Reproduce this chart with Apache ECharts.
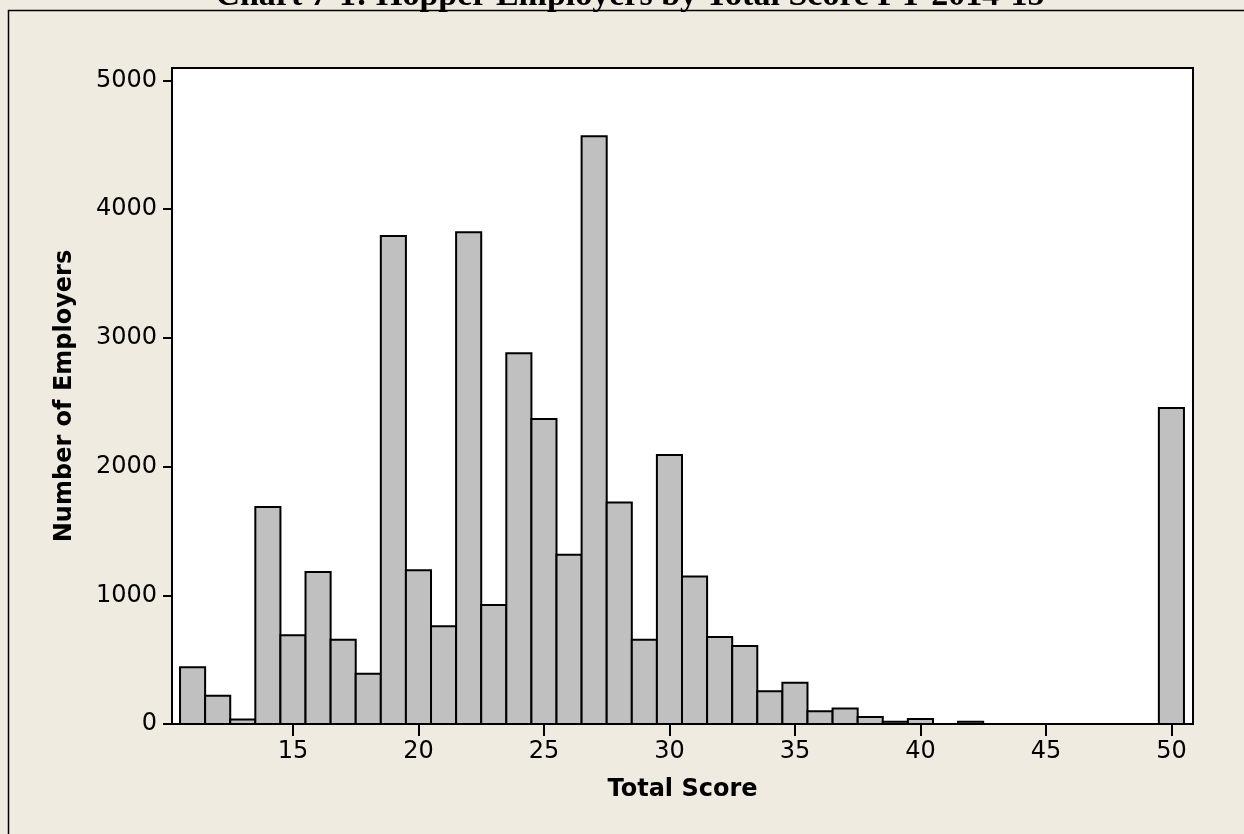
<!DOCTYPE html>
<html>
<head>
<meta charset="utf-8">
<script src="https://cdn.jsdelivr.net/npm/echarts@6/dist/echarts.min.js"></script>
<style>
html,body{margin:0;padding:0;background:#EFEBE0;}
#chart{width:1244px;height:834px;}
</style>
</head>
<body>
<div id="chart"></div>
<script>
const titleText = 'Chart 7-1: Hopper Employers by Total Score FY 2014-15';
const xName = 'Total Score';
const yName = 'Number of Employers';
const scores = [11,12,13,14,15,16,17,18,19,20,21,22,23,24,25,26,27,28,29,30,31,32,33,34,35,36,37,38,39,40,41,42,43,44,45,46,47,48,49,50];
const counts = [440,220,35,1685,690,1180,655,390,3790,1195,760,3820,925,2880,2370,1315,4565,1720,655,2090,1145,675,605,255,320,100,120,55,18,38,0,18,0,0,0,0,0,0,0,2455];
const xTicks = [15,20,25,30,35,40,45,50];
const yTicks = [0,1000,2000,3000,4000,5000];

const chart = echarts.init(document.getElementById('chart'), null, {renderer:'canvas'});
const data = scores.map((s,i)=>[s, counts[i]]);
const labelFont = {fontFamily:'DejaVu Sans', fontSize:24, color:'#000', formatter:function(v){return String(v);}};

chart.setOption({
  backgroundColor:'#EFEBE0',
  animation:false,
  graphic:[
    {type:'polyline', shape:{points:[[8.5,834],[8.5,10.5],[1244,10.5]]}, style:{stroke:'#000', lineWidth:1.5, fill:null}, z:100},
    {type:'text', x:630, y:-21, style:{text:titleText, font:'bold 34px "Liberation Serif"', fill:'#000', textAlign:'center', textVerticalAlign:'top', align:'center', verticalAlign:'top'}, z:100}
  ],
  grid:{left:172, right:51, top:68, bottom:110, show:true, backgroundColor:'#fff', borderColor:'#000', borderWidth:2, containLabel:false},
  xAxis:{
    type:'value', min:10.18, max:50.86,
    name:xName, nameLocation:'middle', nameGap:54,
    nameTextStyle:{fontFamily:'DejaVu Sans', fontSize:24, fontWeight:'bold', color:'#000'},
    axisLine:{show:true, onZero:false, lineStyle:{color:'#000', width:2}},
    axisTick:{show:true, customValues:xTicks, length:12, lineStyle:{color:'#000', width:2}},
    axisLabel:Object.assign({customValues:xTicks, margin:16}, labelFont),
    splitLine:{show:false}
  },
  yAxis:{
    type:'value', min:0, max:5096,
    name:yName, nameLocation:'middle', nameGap:95,
    nameTextStyle:{fontFamily:'DejaVu Sans', fontSize:24, fontWeight:'bold', color:'#000'},
    axisLine:{show:true, lineStyle:{color:'#000', width:2}},
    axisTick:{show:true, customValues:yTicks, length:9, lineStyle:{color:'#000', width:2}},
    axisLabel:Object.assign({customValues:yTicks, margin:15}, labelFont),
    splitLine:{show:false}
  },
  series:[{
    type:'custom',
    data:data,
    renderItem:function(params, api){
      const x = api.value(0), y = api.value(1);
      const p0 = api.coord([x-0.5, y]);
      const p1 = api.coord([x+0.5, 0]);
      return {type:'rect', shape:{x:p0[0], y:p0[1], width:p1[0]-p0[0], height:p1[1]-p0[1]},
        style:{fill:'#C0C0C0', stroke:'#000', lineWidth:2}};
    }
  }]
});
</script>
</body>
</html>
